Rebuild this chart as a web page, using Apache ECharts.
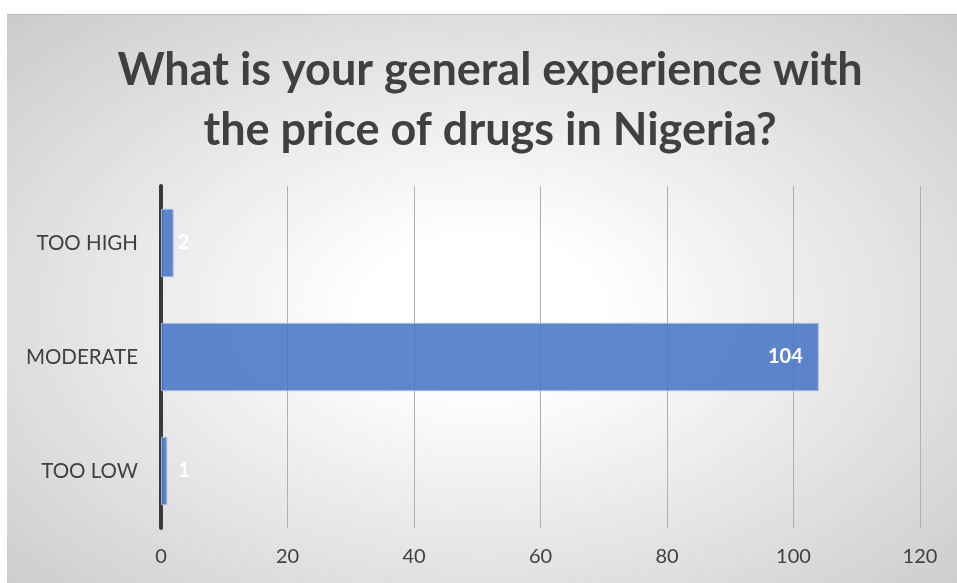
<!DOCTYPE html>
<html>
<head>
<meta charset="utf-8">
<script src="https://cdn.jsdelivr.net/npm/echarts@6/dist/echarts.min.js"></script>
<style>
  html, body { margin: 0; padding: 0; background: #ffffff; }
  #panel {
    position: absolute; left: 7px; top: 14px; width: 950px; height: 569px;
    border-top: 1px solid #bdbdbd;
    box-sizing: border-box;
    background: radial-gradient(ellipse at 50% 52%, #ffffff 0%, #ffffff 18%, #cbcbcb 100%);
  }
  #chart { position: absolute; left: 0; top: 0; width: 957px; height: 583px; }
</style>
</head>
<body>
<div id="panel"></div>
<div id="chart"></div>
<script>
// Survey responses on drug prices
const titleText = 'What is your general experience with\nthe price of drugs in Nigeria?';
const categories = ['TOO HIGH', 'MODERATE', 'TOO LOW'];
const counts = [2, 104, 1];
const xTicks = [0, 20, 40, 60, 80, 100, 120];

const FONT = 'Lato, "Open Sans", sans-serif';
const TEXT = '#404040';

// Per-bar label placement: long bars keep the number inside, short ones push it just past the end
const labelFor = (v) => v > 10
  ? { position: 'insideRight', distance: 16 }
  : { position: 'right', distance: v === 1 ? 11 : 4 };

const chart = echarts.init(document.getElementById('chart'), null, { renderer: 'canvas' });
chart.setOption({
  backgroundColor: 'transparent',
  animation: false,
  title: {
    text: titleText,
    left: 485,
    top: 35,
    textAlign: 'center',
    textStyle: {
      fontFamily: FONT, fontWeight: 'bold', fontSize: 45,
      color: TEXT, lineHeight: 60
    }
  },
  grid: { left: 161, right: 37, top: 186, bottom: 55, containLabel: false },
  xAxis: {
    type: 'value',
    min: xTicks[0],
    max: xTicks[xTicks.length - 1],
    interval: xTicks[1] - xTicks[0],
    axisLine: { show: false },
    axisTick: { show: false },
    axisLabel: { color: TEXT, fontFamily: FONT, fontSize: 20, margin: 19 },
    splitLine: { show: true, lineStyle: { color: '#b0b0b0', width: 1 } }
  },
  yAxis: {
    type: 'category',
    data: categories,
    inverse: true,
    axisLine: { show: true, lineStyle: { color: '#3a3a3a', width: 4 } },
    axisTick: { show: false },
    axisLabel: { color: TEXT, fontFamily: FONT, fontSize: 20.5, margin: 23 },
    splitLine: { show: false }
  },
  series: [{
    type: 'bar',
    barCategoryGap: '40%',
    data: counts.map(v => ({ value: v, label: labelFor(v) })),
    itemStyle: {
      color: 'rgba(68,114,196,0.85)',
      borderColor: 'rgba(170,192,232,0.9)',
      borderWidth: 1
    },
    label: {
      show: true,
      color: '#ffffff',
      fontFamily: FONT,
      fontWeight: 'bold',
      fontSize: 20
    },
    z: 1
  }]
});
</script>
</body>
</html>
